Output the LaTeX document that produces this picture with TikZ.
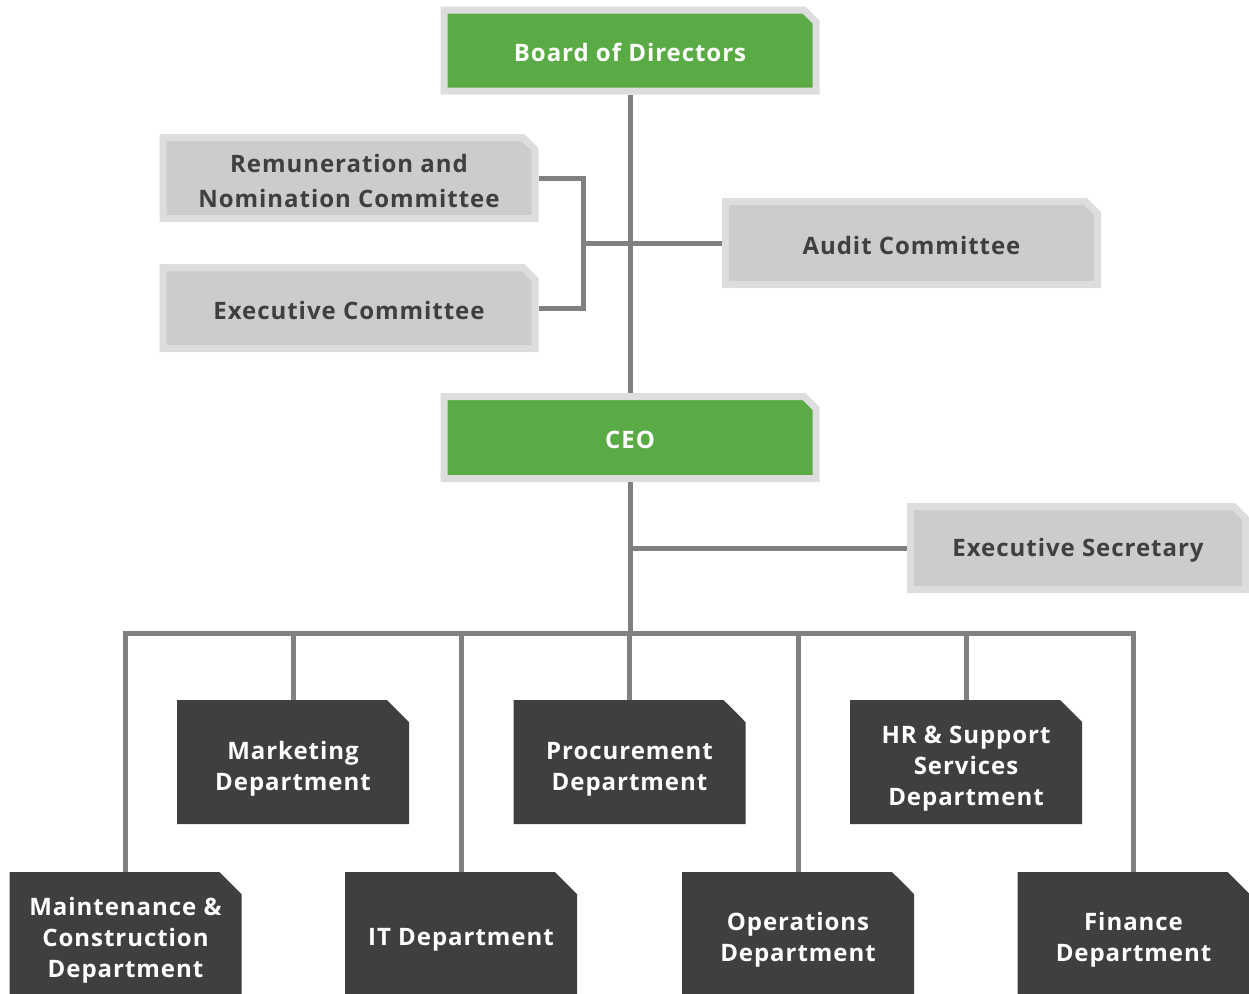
\documentclass[tikz,border=0pt]{standalone}
\usepackage{fontspec}
\setmainfont{Open Sans}[LetterSpace=4]
\usetikzlibrary{shapes.misc}
\definecolor{boardgreen}{HTML}{5AAB46}
\definecolor{rimgray}{HTML}{DDDDDD}
\definecolor{boxgray}{HTML}{CCCCCC}
\definecolor{deptdark}{HTML}{3F3F3F}
\definecolor{linkgray}{HTML}{808080}
\newcommand{\lift}[1]{\rule{0pt}{#1pt}}
\begin{document}
\begin{tikzpicture}[x=1pt,y=-1pt,
	box/.style={chamfered rectangle, chamfered rectangle corners=north east,
		inner sep=0pt, align=center, font=\fontsize{24}{31}\selectfont\bfseries},
	lead/.style={box, draw=rimgray, line width=7pt, fill=boardgreen, text=white,
		chamfered rectangle sep=6pt, minimum width=372pt, minimum height=81pt},
	committee/.style={lead, fill=boxgray, text=deptdark},
	dept/.style={box, fill=deptdark, text=white, chamfered rectangle sep=11pt,
		minimum width=232pt, minimum height=124pt},
	lowdept/.style={dept, minimum height=136pt},
	link/.style={draw=linkgray, line width=5pt}]
				\clip (0,0) rectangle (1249,993);

				% Board and committees
				\node[lead] (board) at (630,50.5) {\lift{23}Board of Directors};
				\node[committee] (rem) at (349,178) {\lift{24}Remuneration and\\[4pt]Nomination Committee};
				\node[committee] (exe) at (349,308) {\lift{23}Executive Committee};
				\node[committee, minimum height=83pt] (aud) at (911.5,243) {\lift{23}Audit Committee};
				\coordinate (brk) at (583,243);

				% CEO
				\node[lead, minimum height=82pt] (ceo) at (630,437.5) {\lift{23}CEO};
				\node[committee, minimum width=335pt, minimum height=83pt] (sec) at (1078,548) {\lift{23}Executive Secretary};
				\coordinate (bus) at (630,633);

				% Departments
				\node[dept] (mkt) at (293,762) {\lift{31}Marketing\\Department};
				\node[dept] (prc) at (629.5,762) {\lift{31}Procurement\\Department};
				\node[dept] (hr) at (966,762) {\lift{31}HR \& Support\\Services\\Department};
				\node[lowdept] (mnt) at (125.5,940) {Maintenance \&\\Construction\\Department};
				\node[lowdept] (it) at (461,940) {IT Department};
				\node[lowdept] (ops) at (798,940) {Operations\\Department};
				\node[lowdept] (fin) at (1133.5,940) {Finance\\Department};

				% Links
				\draw[link] (board.south) -- (ceo.north);
				\draw[link] (rem.east) -| (brk) |- (exe.east);
				\draw[link] (brk) -- (brk -| board.south);
				\draw[link] (aud.west) -- (aud.west -| board.south);
				\draw[link] (ceo.south) -- (bus);
				\draw[link] (sec.west) -- (sec.west -| ceo.south);
				\draw[link] (mnt.north) |- (bus) -| (fin.north);
				\foreach \d in {mkt,it,prc,ops,hr}
					\draw[link] (\d.north) -- (\d.north |- bus);
			\end{tikzpicture}
\end{document}
